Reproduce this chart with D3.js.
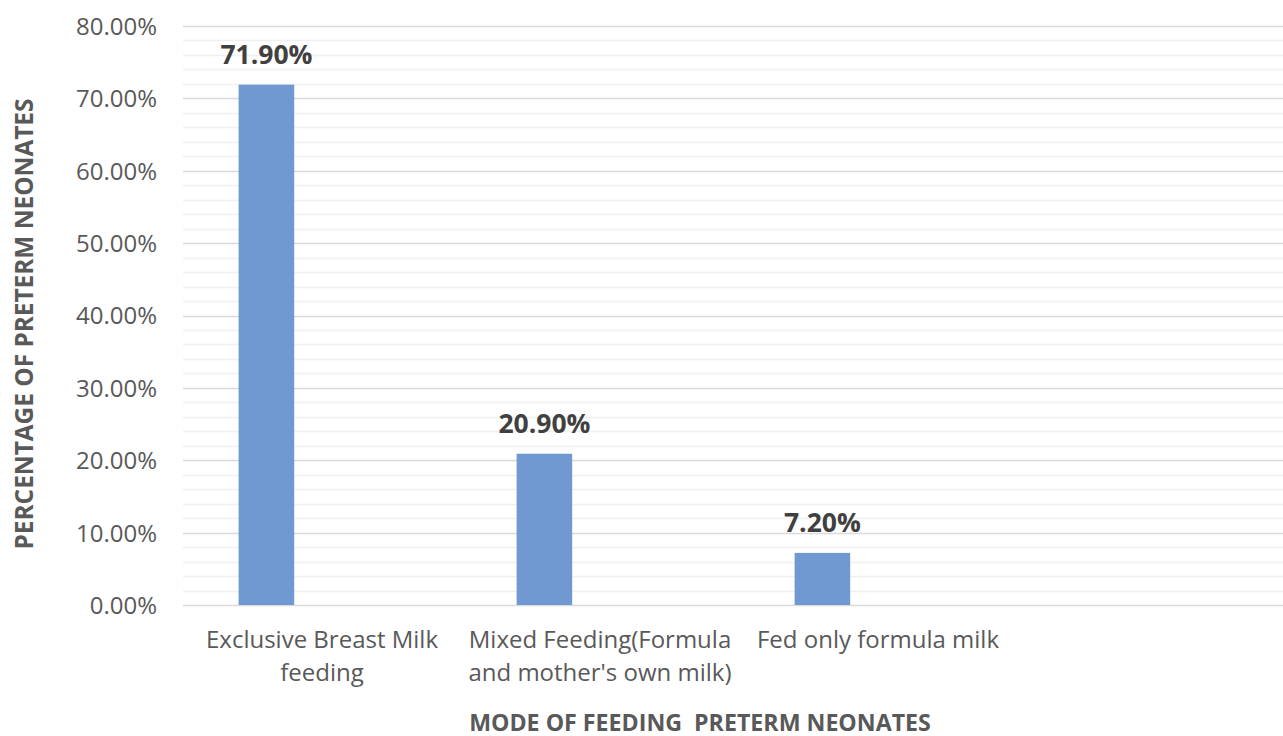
<!DOCTYPE html>
<html>
<head>
<meta charset="utf-8">
<script src="https://cdn.jsdelivr.net/npm/d3@7"></script>
<style>
  html, body { margin: 0; padding: 0; background: #fff; }
  svg { display: block; }
</style>
</head>
<body>
<svg id="chart" width="1283" height="736"></svg>
<script>
// ---- data ----
const categories = [
  "Exclusive Breast Milk\nfeeding",
  "Mixed Feeding(Formula\nand mother's own milk)",
  "Fed only formula milk",
  ""
];
const values = [0.719, 0.209, 0.072, null];
const seriesSlots = ["Percentage", "s2", "s3"];
const yTicks = [0, 0.1, 0.2, 0.3, 0.4, 0.5, 0.6, 0.7, 0.8];
const yMinorTicks = d3.range(0, 0.8001, 0.02);
const yTitle = "PERCENTAGE OF PRETERM NEONATES";
const xTitle = "MODE OF FEEDING  PRETERM NEONATES";

// ---- layout ----
const W = 1283, H = 736;
const plot = { left: 183, right: 1295, top: 26, bottom: 605 };
const font = "'Open Sans', sans-serif";

const svg = d3.select("#chart");

const y = d3.scaleLinear().domain([0, 0.8]).range([plot.bottom, plot.top]);
const x0 = d3.scaleBand().domain(categories.map((c, i) => i)).range([plot.left, plot.right]).paddingInner(0).paddingOuter(0);
const x1 = d3.scaleBand().domain(seriesSlots).range([0, x0.bandwidth()]).paddingInner(0).paddingOuter(1);

// minor gridlines
svg.append("g").selectAll("line")
  .data(yMinorTicks.filter(t => !yTicks.some(m => Math.abs(m - t) < 1e-9)))
  .join("line")
  .attr("x1", plot.left).attr("x2", W)
  .attr("y1", d => Math.round(y(d)) + 0.5).attr("y2", d => Math.round(y(d)) + 0.5)
  .attr("stroke", "#f0f0f0").attr("stroke-width", 1.5);

// major gridlines
svg.append("g").selectAll("line")
  .data(yTicks)
  .join("line")
  .attr("x1", plot.left).attr("x2", W)
  .attr("y1", d => Math.round(y(d)) + 0.5).attr("y2", d => Math.round(y(d)) + 0.5)
  .attr("stroke", "#d9d9d9").attr("stroke-width", 1.5);

// y axis labels
const yAxis = d3.axisLeft(y).tickValues(yTicks).tickFormat(d => (d * 100).toFixed(2) + "%").tickSize(0).tickPadding(0);
const ya = svg.append("g").attr("transform", `translate(157,0)`).call(yAxis);
ya.select(".domain").remove();
ya.selectAll("text")
  .attr("font-family", font).attr("font-size", 24).attr("fill", "#595959").attr("dy", "0.35em");

// bars
svg.append("g").selectAll("rect")
  .data(values.map((v, i) => ({ v, i })).filter(d => d.v != null))
  .join("rect")
  .attr("x", d => x0(d.i) + x1(seriesSlots[0]))
  .attr("width", x1.bandwidth())
  .attr("y", d => y(d.v))
  .attr("height", d => y(0) - y(d.v))
  .attr("fill", "#7099D1");

// data labels
svg.append("g").selectAll("text")
  .data(values.map((v, i) => ({ v, i })).filter(d => d.v != null))
  .join("text")
  .attr("x", d => x0(d.i) + x1(seriesSlots[0]) + x1.bandwidth() / 2)
  .attr("y", d => y(d.v) - 21)
  .attr("text-anchor", "middle")
  .attr("font-family", font).attr("font-size", 26.5).attr("font-weight", "bold")
  .attr("fill", "#404040")
  .text(d => (d.v * 100).toFixed(2) + "%");

// category labels
const xa = svg.append("g");
categories.forEach((c, i) => {
  if (!c) return;
  const t = xa.append("text")
    .attr("x", x0(i) + x0.bandwidth() / 2)
    .attr("y", 648)
    .attr("text-anchor", "middle")
    .attr("font-family", font).attr("font-size", 24).attr("fill", "#595959");
  c.split("\n").forEach((line, k) => {
    t.append("tspan").attr("x", x0(i) + x0.bandwidth() / 2).attr("dy", k === 0 ? 0 : 33).text(line);
  });
});

// axis titles
svg.append("text")
  .attr("transform", `translate(33,324) rotate(-90)`)
  .attr("text-anchor", "middle")
  .attr("font-family", font).attr("font-size", 24.4).attr("font-weight", "bold").attr("fill", "#595959")
  .text(yTitle);

svg.append("text")
  .attr("x", 700).attr("y", 731)
  .attr("text-anchor", "middle")
  .attr("xml:space", "preserve").style("white-space", "pre")
  .attr("font-family", font).attr("font-size", 23.2).attr("font-weight", "bold").attr("fill", "#595959")
  .text(xTitle);
</script>
</body>
</html>
